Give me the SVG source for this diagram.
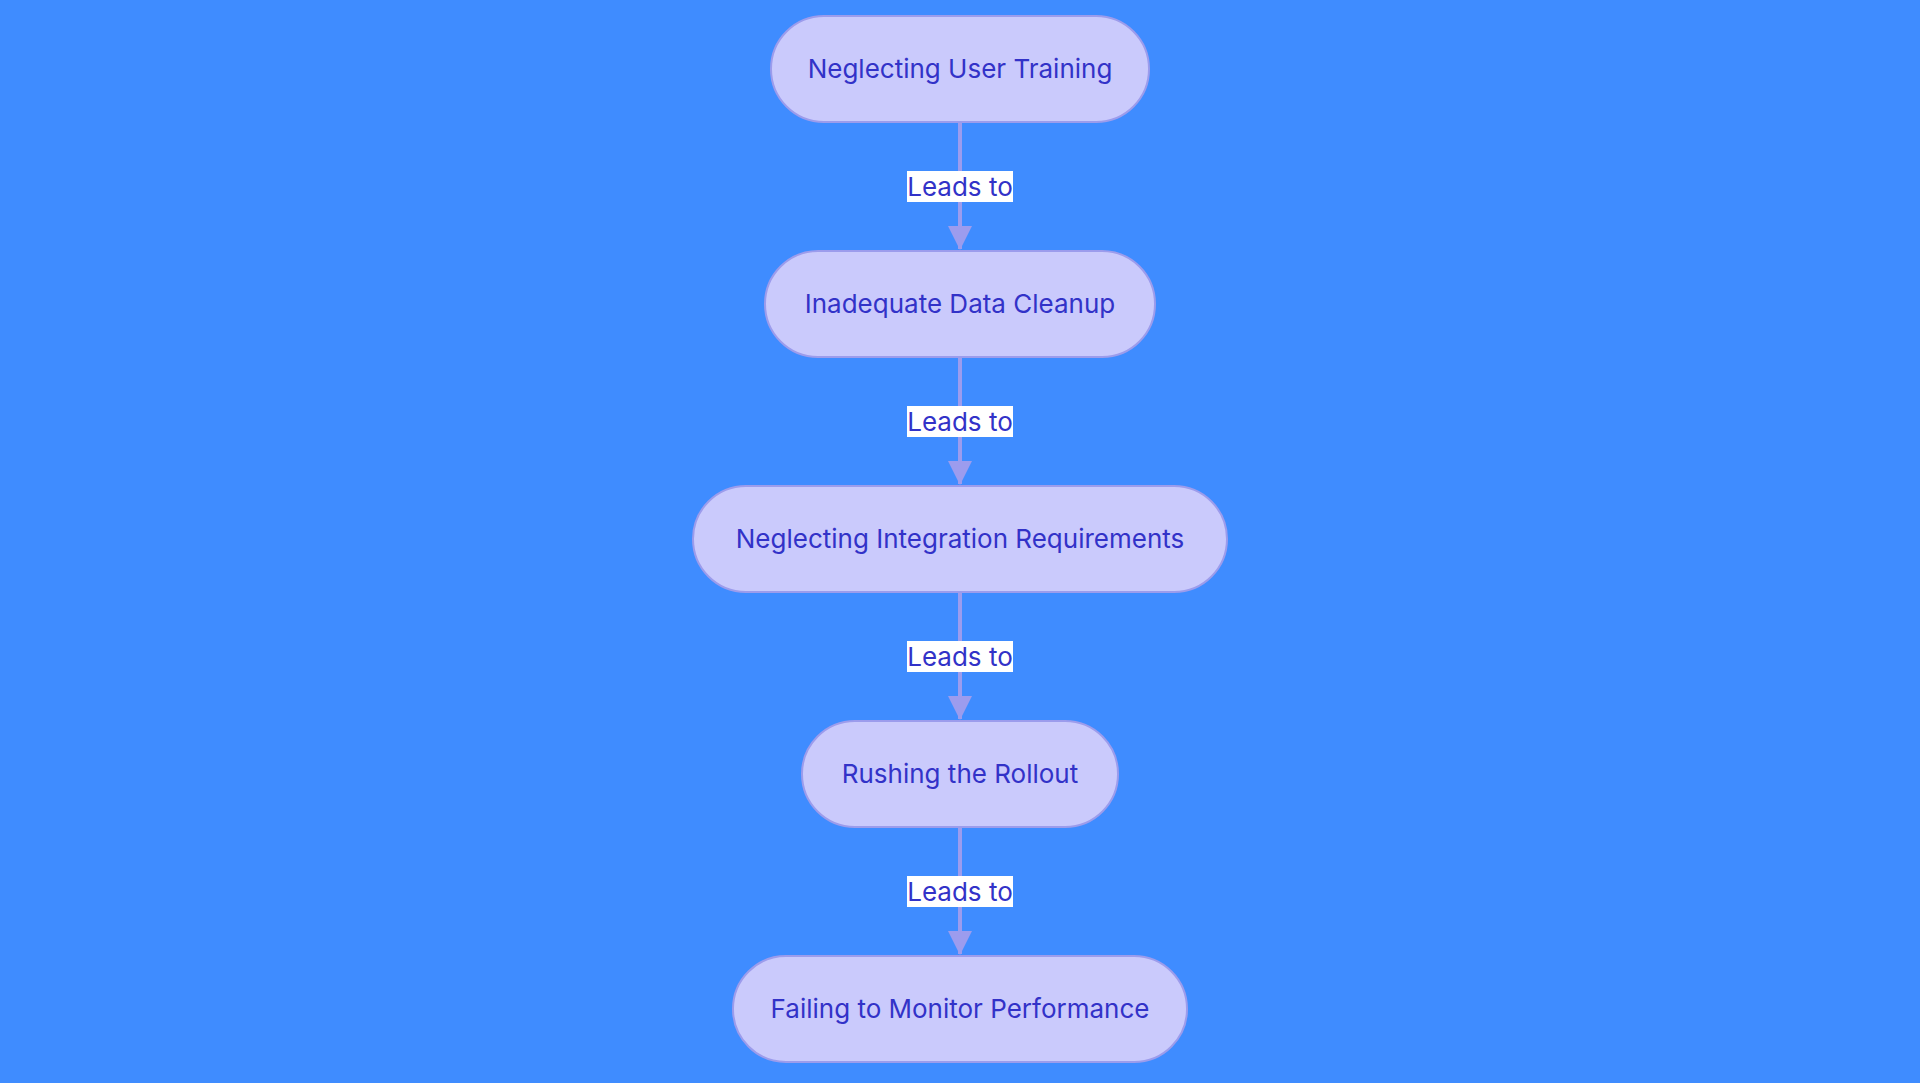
<svg xmlns="http://www.w3.org/2000/svg" width="1920" height="1083" viewBox="0 0 1920 1083">
<defs>
<style>
.node rect{fill:#cacafc;stroke:#9c9cec;stroke-width:2}
.node text{font-family:Inter,"Noto Sans",sans-serif;font-size:26px;fill:#3232c8;text-anchor:middle;dominant-baseline:central}
.edge{stroke:#9c9cee;stroke-width:4;fill:none}
.lbl rect{fill:#ffffff}
.lbl text{font-family:Inter,"Noto Sans",sans-serif;font-size:26px;fill:#3232c8;text-anchor:middle;dominant-baseline:central}
</style>
<marker id="arr" markerUnits="userSpaceOnUse" markerWidth="24" markerHeight="24" refX="23" refY="12" orient="auto" viewBox="0 0 24 24">
<path d="M0,0 L24,12 L0,24 Z" fill="#9c9cee"/>
</marker>
</defs>
<rect x="0" y="0" width="1920" height="1083" fill="#3f8cff"/>
<g id="connectors">
<path class="edge" d="M960,122 L960,249" marker-end="url(#arr)"/>
<path class="edge" d="M960,357 L960,484" marker-end="url(#arr)"/>
<path class="edge" d="M960,592 L960,719" marker-end="url(#arr)"/>
<path class="edge" d="M960,827 L960,954" marker-end="url(#arr)"/>
<g class="lbl"><rect x="907" y="171" width="106" height="31"/><text x="960" y="186">Leads to</text></g>
<g class="lbl"><rect x="907" y="406" width="106" height="31"/><text x="960" y="421">Leads to</text></g>
<g class="lbl"><rect x="907" y="641" width="106" height="31"/><text x="960" y="656">Leads to</text></g>
<g class="lbl"><rect x="907" y="876" width="106" height="31"/><text x="960" y="891">Leads to</text></g>
</g>
<g id="n1" class="node"><rect x="771" y="16" width="378" height="106" rx="53"/><text x="960" y="68">Neglecting User Training</text></g>
<g id="n2" class="node"><rect x="765" y="251" width="390" height="106" rx="53"/><text x="960" y="303">Inadequate Data Cleanup</text></g>
<g id="n3" class="node"><rect x="693" y="486" width="534" height="106" rx="53"/><text x="960" y="538">Neglecting Integration Requirements</text></g>
<g id="n4" class="node"><rect x="802" y="721" width="316" height="106" rx="53"/><text x="960" y="773">Rushing the Rollout</text></g>
<g id="n5" class="node"><rect x="733" y="956" width="454" height="106" rx="53"/><text x="960" y="1008">Failing to Monitor Performance</text></g>
</svg>
